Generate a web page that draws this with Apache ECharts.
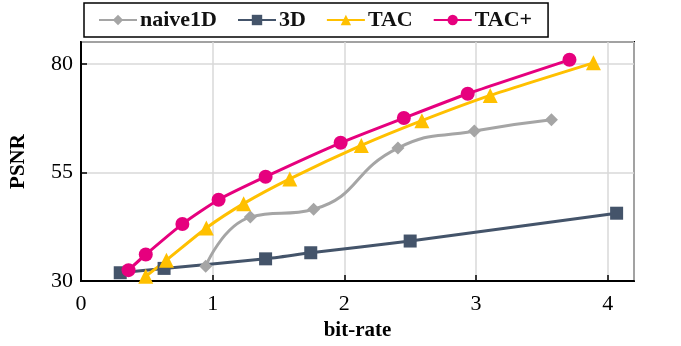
<!DOCTYPE html>
<html>
<head>
<meta charset="utf-8">
<script src="https://cdn.jsdelivr.net/npm/echarts@6/dist/echarts.min.js"></script>
<style>
  html, body { margin: 0; padding: 0; background: #fff; }
  #c1 { width: 681px; height: 346px; }
</style>
</head>
<body>
<div id="c1"></div>
<script>
// data: [bit-rate, PSNR]
var naive1D = [[0.947, 33.4], [1.286, 44.7], [1.767, 46.5], [2.407, 60.6], [2.987, 64.5], [3.573, 67.1]];
var d3 = [[0.298, 31.9], [0.631, 32.9], [1.402, 35.1], [1.745, 36.5], [2.5, 39.2], [4.068, 45.6]];
var tac = [[0.492, 31.1], [0.649, 34.8], [0.952, 42.2], [1.235, 47.8], [1.586, 53.5], [2.129, 61.2], [2.589, 66.9], [3.108, 72.7], [3.892, 80.2]];
var tacPlus = [[0.361, 32.5], [0.492, 36.1], [0.770, 43.1], [1.045, 48.7], [1.402, 54.0], [1.972, 61.8], [2.452, 67.5], [2.937, 73.1], [3.710, 80.9]];

var font = 'Liberation Serif';

var ec_c1 = echarts.init(document.getElementById('c1'));

function mkSeries(name, data, color, symbol, size, smooth) {
    return {
        name: name,
        type: 'line',
        data: data,
        smooth: smooth,
        symbol: symbol,
        symbolSize: size,
        lineStyle: { color: color, width: 3 },
        itemStyle: { color: color },
        z: 3
    };
}

var ec_c1_option = {
    backgroundColor: '#fff',
    animation: false,
    legend: {
        top: 3,
        left: 84,
        padding: [6, 16, 6, 14],
        borderColor: '#000',
        borderWidth: 1.5,
        itemGap: 20,
        itemWidth: 38,
        itemHeight: 13,
        textStyle: { fontFamily: font, fontWeight: 'bold', fontSize: 22, color: '#111', padding: [2, 0, 0, -2] },
        data: ['naive1D', '3D', 'TAC', 'TAC+']
    },
    grid: {
        left: 78,
        right: 47,
        top: 42,
        bottom: 65,
        show: true,
        borderColor: '#000',
        borderWidth: 2
    },
    xAxis: {
        type: 'value',
        min: 0,
        max: 4.2,
        interval: 1,
        name: 'bit-rate',
        nameLocation: 'middle',
        nameGap: 36,
        nameTextStyle: { fontFamily: font, fontWeight: 'bold', fontSize: 21, color: '#000' },
        axisLine: { lineStyle: { color: '#000', width: 2 } },
        axisTick: { show: true, inside: true, length: 6, lineStyle: { color: '#000', width: 1.5 } },
        axisLabel: { fontFamily: font, fontSize: 22, color: '#000', margin: 12, showMaxLabel: false },
        splitLine: { show: true, lineStyle: { color: '#d9d9d9', width: 1.5 } }
    },
    yAxis: {
        type: 'value',
        min: 30,
        max: 85,
        interval: 25,
        name: 'PSNR',
        nameLocation: 'middle',
        nameGap: 52,
        nameTextStyle: { fontFamily: font, fontWeight: 'bold', fontSize: 21, color: '#000' },
        axisLine: { show: true, lineStyle: { color: '#000', width: 2 } },
        axisTick: { show: true, inside: true, length: 6, lineStyle: { color: '#000', width: 1.5 } },
        axisLabel: { fontFamily: font, fontSize: 22, color: '#000', margin: 8, showMaxLabel: false },
        splitLine: { show: true, lineStyle: { color: '#d9d9d9', width: 1.5 } }
    },
    series: [
        mkSeries('naive1D', naive1D, '#a5a5a5', 'diamond', 13, 0.5),
        mkSeries('3D', d3, '#44546a', 'rect', 13, 0.2),
        mkSeries('TAC', tac, '#ffc000', 'triangle', 15, 0.2),
        mkSeries('TAC+', tacPlus, '#e6007e', 'circle', 14, 0.2)
    ]
};
ec_c1.setOption(ec_c1_option);
</script>
</body>
</html>
